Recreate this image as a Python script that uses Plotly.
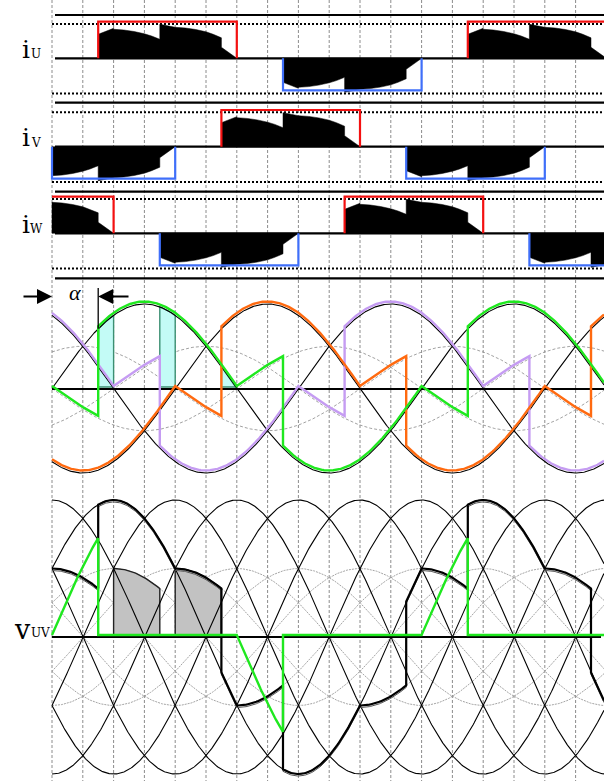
import numpy as np
import plotly.graph_objects as go

# ---------------- data ----------------
ALPHA = 45                                   # firing angle (deg)
PHASES = ["U", "V", "W"]
PHASE_SHIFT = [0, 120, 240]                  # deg
GRID_ANGLES = list(range(0, 540, 30))        # dashed vertical grid (deg)
LAST_BLOCK_START = 500                       # blocks drawn up to this start angle (deg)
# current block template: angle from block start (deg) / magnitude
I_PHI = [0, 0, 15, 15, 25, 35, 45, 52, 60, 60, 75, 85, 95, 105, 112, 120, 120, 135]
I_MAG = [0, 24, 30, 29, 28.3, 26.8, 24.5, 22.3, 19, 34, 31, 30.3, 28.8, 26.5, 24, 20.5, 11, 0]
CYAN_SPANS = [(45, 60), (105, 120), (165, 180)]
GRAY_SPANS = [(60, 105), (120, 165)]
GRAY_TOP_SHIFT = [30, -30]                   # half line-voltage phase of shaded tops
LABELS_I = ["i", "i", "i"]
LABEL_V = "v"
ALPHA_TEXT = "α"

# ---------------- layout constants ----------------
W, H = 604, 781
X0, PXDEG = 52.0, 30.8 / 30.0
TH_MIN, TH_MAX = -X0 / PXDEG, (W - X0) / PXDEG
I_ZERO = [58.3, 146.7, 233.3]
SEP_Y = [15, 102.7, 191.7, 278.3]
MID_ZERO, MID_AMP = 388.5, 84.5
BOT_ZERO, BOT_AMP = 637.0, 137.0
BOT_UNIT = BOT_AMP / np.sqrt(3)

GREEN, ORANGE, PURPLE = "#1fe81f", "#ff6a10", "#c59cf2"
COLS = {"U": GREEN, "V": ORANGE, "W": PURPLE}
RED, BLUE = "#f41010", "#3f6ffa"


def px2th(px):
    return (px - X0) / PXDEG


def e(ph, th):
    return np.sin(np.radians(th - PHASE_SHIFT[PHASES.index(ph)]))


def state(ph, th):
    p = (th - PHASE_SHIFT[PHASES.index(ph)]) % 360
    if ALPHA <= p < 180:
        return 1
    if 180 + ALPHA <= p < 360:
        return -1
    return 0


def vph(ph, th, st):
    return e(ph, th) if st[ph] != 0 else -0.5 * e(ph, th)


bps = {0.0, TH_MAX}
for sh in PHASE_SHIFT:
    for k in range(-2, 3):
        for a in (ALPHA, 180, 180 + ALPHA, 360):
            b = sh + a + 360 * k
            if 0 < b < TH_MAX:
                bps.add(float(b))
bps = sorted(bps)


def piecewise(fn):
    xs, ys = [], []
    for a, b in zip(bps[:-1], bps[1:]):
        mid = 0.5 * (a + b)
        st = {p: state(p, mid) for p in PHASES}
        th = np.linspace(a, b, max(2, int(b - a) + 1))
        xs += list(th)
        ys += list(fn(th, st))
    return xs, ys


fig = go.Figure()


def line(x, y, color="black", width=1, dash=None, fill=None, fillcolor=None):
    fig.add_trace(go.Scatter(x=x, y=y, mode="lines",
                             line=dict(color=color, width=width, dash=dash),
                             fill=fill, fillcolor=fillcolor, hoverinfo="skip"))


# ---------- current panels ----------
for i, ph in enumerate(PHASES):
    z = I_ZERO[i]
    line([px2th(52), TH_MAX], [z - 34.4, z - 34.4], width=2, dash="2px,2px")
    line([px2th(52), TH_MAX], [z + 35.3, z + 35.3], width=2, dash="2px,2px")
    line([px2th(55), TH_MAX], [z, z], width=2.2)
    sh = PHASE_SHIFT[i]
    for k in range(-1, 2):
        for sign, off in ((1, ALPHA), (-1, 180 + ALPHA)):
            s = sh + off + 360 * k
            e_ = s + 180 - ALPHA
            if e_ <= 0 or s >= LAST_BLOCK_START:
                continue
            th = [s + p for p in I_PHI]
            mg = list(I_MAG)
            if s < 0:
                nth, nmg = [0.0], [None]
                for j in range(len(th) - 1):
                    if th[j] <= 0 < th[j + 1]:
                        f = (0 - th[j]) / (th[j + 1] - th[j])
                        nmg[0] = mg[j] + f * (mg[j + 1] - mg[j])
                for t, m in zip(th, mg):
                    if t > 0:
                        nth.append(t)
                        nmg.append(m)
                th, mg = [0.0] + nth, [0.0] + nmg
            ys = [z - sign * m for m in mg]
            line(th + [th[0]], ys + [z], color="black", width=0.5, fill="toself", fillcolor="black")
            top = z - 36.7 if sign > 0 else z + 32.0
            col = RED if sign > 0 else BLUE
            if s >= 0:
                ox, oy = [s, s, e_, e_], [z, top, top, z]
            else:
                if sign > 0:
                    ox, oy = [0, e_, e_], [top, top, z]
                else:
                    ox, oy = [0, 0, e_, e_], [z, top, top, z]
            line(ox, oy, color=col, width=2.2)

for y in SEP_Y:
    line([px2th(55), TH_MAX], [y, y], width=2.2)

# ---------- middle panel: phase voltages ----------
thg = np.linspace(0, TH_MAX, 600)
for ph in PHASES:
    line(list(thg), list(MID_ZERO + 0.5 * MID_AMP * e(ph, thg)), color="#8a8a8a", width=0.8, dash="3px,2px")
for a, b in CYAN_SPANS:
    t = np.linspace(a, b, 30)
    xs = [a] + list(t) + [b, a]
    ys = [MID_ZERO - 1.5] + list(MID_ZERO - MID_AMP * e("U", t)) + [MID_ZERO - 1.5, MID_ZERO - 1.5]
    line(xs, ys, color="#3c8f72", width=1.4, fill="toself", fillcolor="#c3fbf6")
line([0, TH_MAX], [MID_ZERO + 0.5, MID_ZERO + 0.5], width=2.2)
for ph in PHASES:
    line(list(thg), list(MID_ZERO - MID_AMP * e(ph, thg)), color="black", width=1.1)
for ph in ["W", "V", "U"]:
    xs, ys = piecewise(lambda th, st, ph=ph: MID_ZERO - 2.5 - MID_AMP * vph(ph, th, st))
    line(xs, ys, color=COLS[ph], width=2.4)

# ---------- bottom panel: line voltage ----------
for k in range(6):
    line(list(thg), list(BOT_ZERO - 0.5 * BOT_AMP * np.cos(np.radians(thg - 60 * k))),
         color="#9a9a9a", width=0.9, dash="2px,1px")
for (a, b), sft in zip(GRAY_SPANS, GRAY_TOP_SHIFT):
    t = np.linspace(a, b, 40)
    xs = [a] + list(t) + [b, a]
    ys = [BOT_ZERO] + list(BOT_ZERO - 0.5 * BOT_AMP * np.sin(np.radians(t + sft))) + [BOT_ZERO, BOT_ZERO]
    line(xs, ys, color="#222222", width=1.4, fill="toself", fillcolor="#c2c2c2")
for k in range(6):
    line(list(thg), list(BOT_ZERO - BOT_AMP * np.cos(np.radians(thg - 60 * k))), color="black", width=1.1)
line([0, px2th(601)], [BOT_ZERO, BOT_ZERO], width=2.2)
xs, ys = piecewise(lambda th, st: BOT_ZERO - BOT_UNIT * (vph("U", th, st) - vph("V", th, st)))
line(xs, [y + 2.0 for y in ys], color="#555555", width=1.0)
line(xs, ys, color="black", width=2.2)
xs, ys = piecewise(lambda th, st: BOT_ZERO - 2 - (BOT_AMP * e("U", th) if st["U"] == 0 else 0 * th))
line(xs, ys, color=GREEN, width=2.4)

# ---------- grid ----------
shapes = []
for g in GRID_ANGLES:
    shapes.append(dict(type="line", xref="x", yref="y", x0=g, x1=g, y0=0, y1=H,
                       line=dict(color="#8c8c8c", width=1, dash="3px,2px"), layer="below"))
shapes.append(dict(type="line", xref="x", yref="y", x0=ALPHA, x1=ALPHA, y0=288,
                   y1=MID_ZERO - MID_AMP * np.sin(np.radians(ALPHA)), line=dict(color="black", width=1.3)))

ann = []
serif = "DejaVu Serif"
for i, (lab, ph) in enumerate(zip(LABELS_I, PHASES)):
    z = I_ZERO[i]
    ann.append(dict(x=px2th(26), y=z - 9, text=lab, showarrow=False, xref="x", yref="y",
                    font=dict(family=serif, size=25, color="black")))
    ann.append(dict(x=px2th(36), y=z - 4, text=ph, showarrow=False, xref="x", yref="y",
                    font=dict(family=serif, size=12, color="black")))
ann.append(dict(x=px2th(22), y=BOT_ZERO - 8, text=LABEL_V, showarrow=False, xref="x", yref="y",
                font=dict(family=serif, size=27, color="black")))
ann.append(dict(x=px2th(40), y=BOT_ZERO - 4.5, text="UV", showarrow=False, xref="x", yref="y",
                font=dict(family=serif, size=12, color="black")))
ann.append(dict(x=px2th(75), y=292, text="<i>" + ALPHA_TEXT + "</i>", showarrow=False, xref="x", yref="y",
                font=dict(family="Liberation Serif", size=22, color="black")))
ann.append(dict(x=0, y=296.5, ax=px2th(22), ay=296.5, axref="x", ayref="y", xref="x", yref="y",
                text="", showarrow=True, arrowhead=2, arrowsize=1.5, arrowwidth=2, arrowcolor="black"))
ann.append(dict(x=ALPHA, y=296.5, ax=px2th(130), ay=296.5, axref="x", ayref="y", xref="x", yref="y",
                text="", showarrow=True, arrowhead=2, arrowsize=1.5, arrowwidth=2, arrowcolor="black"))

fig.update_layout(
    width=W, height=H, margin=dict(l=0, r=0, t=0, b=0),
    paper_bgcolor="white", plot_bgcolor="white", showlegend=False,
    xaxis=dict(range=[TH_MIN, TH_MAX], visible=False, fixedrange=True),
    yaxis=dict(range=[H, 0], visible=False, fixedrange=True),
    shapes=shapes, annotations=ann,
)
fig.write_html("out.html", config={"displayModeBar": False},
               post_script="document.body.style.margin='0';document.body.style.overflow='hidden';")
